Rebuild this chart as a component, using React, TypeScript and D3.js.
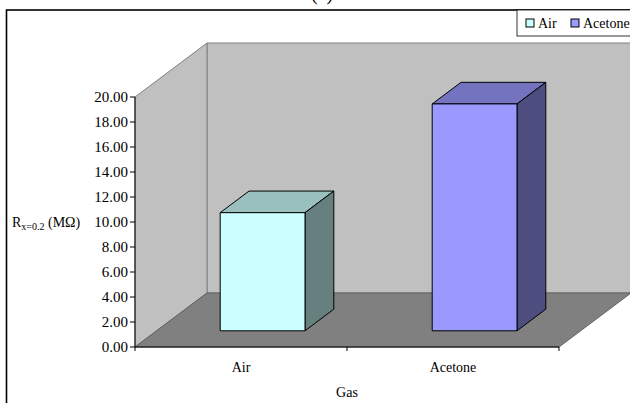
import React from "react";
import * as d3 from "d3";

// Chart data
const categories = ["Air", "Acetone"];
const values = [9.45, 18.15];
const seriesColors = ["#CCFFFF", "#9999FF"];
const yTicks = [0, 2, 4, 6, 8, 10, 12, 14, 16, 18, 20];
const title = "(a)";
const xTitle = "Gas";

const W = 630;
const H = 403;
const FONT = "'Liberation Serif', 'Times New Roman', serif";

// Front plane of the 3D box and its depth vector
const x0 = 135;
const x1 = 559;
const yBase = 347;
const yTop = 97;
const DX = 72;
const DY = -54;

// Bar placement inside the depth of the box
const frontFrac = 0.3;
const depthFrac = 0.4;
const barFrac = 0.4;

function shade(c: string, k: number) {
  const col = d3.rgb(c);
  return d3.rgb(col.r * k, col.g * k, col.b * k).formatHex();
}

export default function App() {
  const y = d3.scaleLinear().domain([0, 20]).range([yBase, yTop]);
  const x = d3.scaleBand<string>().domain(categories).range([x0, x1]).padding(0);
  const bw = x.bandwidth() * barFrac;

  const fx = DX * frontFrac;
  const fy = DY * frontFrac;
  const bx = DX * depthFrac;
  const by = DY * depthFrac;

  const pts = (arr: [number, number][]) => arr.map((p) => p.join(",")).join(" ");

  return (
    <svg
      width={W}
      height={H}
      style={{ position: "absolute", left: 0, top: 0, background: "#fff" }}
      fontFamily={FONT}
    >
      {/* title */}
      <text x={322} y={0} fontSize={20} textAnchor="middle" fill="#000">
        {title}
      </text>

      {/* outer chart frame */}
      <rect x={6.5} y={10} width={W + 20} height={H + 20} fill="#fff" stroke="#000" strokeWidth={1.6} />

      {/* back wall */}
      <polygon
        points={pts([
          [x0 + DX, yTop + DY],
          [x1 + DX + 10, yTop + DY],
          [x1 + DX + 10, yBase + DY],
          [x0 + DX, yBase + DY],
        ])}
        fill="#C0C0C0"
        stroke="#808080"
        strokeWidth={1}
      />
      {/* side wall */}
      <polygon
        points={pts([
          [x0, yBase],
          [x0, yTop],
          [x0 + DX, yTop + DY],
          [x0 + DX, yBase + DY],
        ])}
        fill="#C0C0C0"
        stroke="#808080"
        strokeWidth={1}
      />
      {/* floor */}
      <polygon
        points={pts([
          [x0, yBase],
          [x1, yBase],
          [x1 + DX, yBase + DY],
          [x0 + DX, yBase + DY],
        ])}
        fill="#808080"
        stroke="#606060"
        strokeWidth={1}
      />

      {/* bars */}
      {categories.map((c, i) => {
        const left = (x(c) as number) + (x.bandwidth() - bw) / 2 + fx;
        const right = left + bw;
        const bot = y(0) + fy;
        const top = y(values[i]) + fy;
        const col = seriesColors[i];
        return (
          <g key={c} stroke="#000" strokeWidth={1} strokeLinejoin="round">
            <polygon
              points={pts([
                [left, top],
                [right, top],
                [right + bx, top + by],
                [left + bx, top + by],
              ])}
              fill={shade(col, 0.75)}
            />
            <polygon
              points={pts([
                [right, top],
                [right + bx, top + by],
                [right + bx, bot + by],
                [right, bot],
              ])}
              fill={shade(col, 0.5)}
            />
            <rect x={left} y={top} width={bw} height={bot - top} fill={col} />
          </g>
        );
      })}

      {/* y axis */}
      <line x1={x0} x2={x0} y1={yTop} y2={yBase} stroke="#000" strokeWidth={1} />
      {yTicks.map((t) => (
        <g key={t}>
          <line x1={x0 - 5} x2={x0} y1={y(t)} y2={y(t)} stroke="#000" strokeWidth={1} />
          <text x={x0 - 7} y={y(t)} dy="0.35em" fontSize={15} textAnchor="end" fill="#000">
            {d3.format(".2f")(t)}
          </text>
        </g>
      ))}

      {/* x axis */}
      <line x1={x0} x2={x1} y1={yBase} y2={yBase} stroke="#000" strokeWidth={1} />
      {[x0, ...categories.map((c) => (x(c) as number) + x.bandwidth())].map((t, i) => (
        <line key={i} x1={t} x2={t} y1={yBase} y2={yBase + 4} stroke="#000" strokeWidth={1} />
      ))}
      {categories.map((c) => (
        <text
          key={c}
          x={(x(c) as number) + x.bandwidth() / 2}
          y={yBase + 25}
          fontSize={14}
          textAnchor="middle"
          fill="#000"
        >
          {c}
        </text>
      ))}
      <text x={(x0 + x1) / 2} y={yBase + 50} fontSize={14} textAnchor="middle" fill="#000">
        {xTitle}
      </text>

      {/* y axis title */}
      <text x={12} y={227} fontSize={14} fill="#000">
        R
        <tspan fontSize={10} dy={3}>x=0.2</tspan>
        <tspan dy={-3}> (MΩ)</tspan>
      </text>

      {/* legend */}
      <rect x={517} y={10} width={140} height={26} fill="#fff" stroke="#000" strokeWidth={0.8} />
      {categories.map((c, i) => {
        const lx = i === 0 ? 526 : 571;
        return (
          <g key={c}>
            <rect x={lx} y={19} width={8} height={8} fill={seriesColors[i]} stroke="#000" strokeWidth={1} />
            <text x={lx + 12} y={28} fontSize={14} fill="#000">
              {c}
            </text>
          </g>
        );
      })}
    </svg>
  );
}
